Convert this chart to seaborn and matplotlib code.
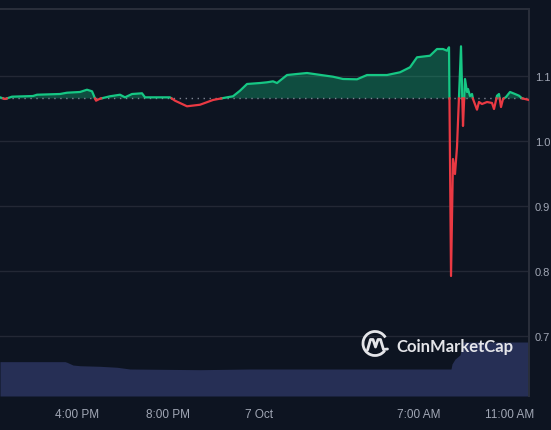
import numpy as np
import pandas as pd
import matplotlib
matplotlib.use("Agg")
import matplotlib.pyplot as plt
from matplotlib.patches import Arc
import seaborn as sns

# ---------------- data ----------------
# hours since 12:00 PM, 6 Oct
hours = [0.615, 0.835, 1.142, 2.066, 2.241, 3.253, 3.560, 4.132, 4.439, 4.659,
         4.835, 5.011, 5.451, 5.890, 6.110, 6.417, 6.857, 6.989, 8.088, 8.308,
         8.835, 9.407, 9.978, 10.593, 10.857, 11.165, 11.473, 12.044, 12.351, 12.615,
         12.791, 13.231, 13.670, 14.110, 15.253, 15.692, 16.308, 16.747, 17.626, 18.198,
         18.637, 18.945, 19.516, 19.824, 20.088, 20.264, 20.352, 20.440, 20.527, 20.615,
         20.703, 20.879, 20.967, 21.055, 21.143, 21.187, 21.275, 21.363, 21.407, 21.582,
         21.670, 21.802, 22.022, 22.242, 22.330, 22.462, 22.549, 22.637, 22.725, 22.857,
         23.033, 23.253, 23.429, 23.560, 23.692, 23.868]
price = [1.0672, 1.0646, 1.0682, 1.0692, 1.0712, 1.0723, 1.0743, 1.0754, 1.0789, 1.0765,
         1.0620, 1.0651, 1.0688, 1.0712, 1.0672, 1.0723, 1.0734, 1.0672, 1.0672, 1.0620,
         1.0534, 1.0558, 1.0631, 1.0672, 1.0688, 1.0774, 1.0877, 1.0892, 1.0903, 1.0918,
         1.0892, 1.1015, 1.1031, 1.1046, 1.0989, 1.0954, 1.0949, 1.1015, 1.1015, 1.1057,
         1.1134, 1.1288, 1.1312, 1.1415, 1.1415, 1.1389, 1.1442, 0.7923, 0.9723, 0.9492,
         0.9908, 1.1457, 1.0231, 1.0954, 1.0754, 1.0800, 1.0692, 1.0723, 1.0646, 1.0482,
         1.0600, 1.0569, 1.0600, 1.0585, 1.0492, 1.0697, 1.0723, 1.0523, 1.0646, 1.0677,
         1.0754, 1.0723, 1.0697, 1.0657, 1.0646, 1.0631]
base_price = 1.0655

vol_hours = [0.615, 3.472, 3.560, 3.824, 4.132, 5.011, 5.758, 6.329, 9.407, 11.604,
             14.681, 20.440, 20.484, 20.615, 20.835, 20.967, 23.868]
volume = [3.55, 3.55, 3.48, 3.20, 3.13, 3.07, 2.97, 2.79, 2.72, 2.79,
          2.79, 2.79, 3.31, 3.82, 4.24, 5.58, 5.58]

ytick_vals = [0.7, 0.8, 0.9, 1.0, 1.1]
ytick_labels = ["0.7", "0.8", "0.9", "1.0", "1.1"]
xtick_vals = [4, 8, 12, 19, 23]
xtick_labels = ["4:00 PM", "8:00 PM", "7 Oct", "7:00 AM", "11:00 AM"]

# ---------------- style ----------------
BG = "#0d1421"
GREEN = "#16c784"
RED = "#ea3943"
GRID = "#232835"
TXT = "#a1a7b5"
VOLC = "#262f55"

W, H = 551, 431
fig = plt.figure(figsize=(W / 100, H / 100), dpi=100, facecolor=BG)
rect = [0, 34 / H, 529 / W, 387 / H]

# volume axes (behind)
axv = fig.add_axes(rect, zorder=0)
axv.set_facecolor(BG)
axv.fill_between(vol_hours, volume, 0, color=VOLC, lw=0)
axv.set_xlim(hours[0], hours[-1])
axv.set_ylim(0, 40)
axv.axis("off")

# price axes
ax = fig.add_axes(rect, zorder=1)
ax.patch.set_visible(False)

h = np.array(hours)
p = np.array(price)

# split into above / below baseline segments
rows = []
seg = 0
prev = None
for i in range(len(h)):
    side = "up" if p[i] >= base_price else "down"
    if prev is not None and side != prev:
        t = (base_price - p[i - 1]) / (p[i] - p[i - 1])
        hc = h[i - 1] + t * (h[i] - h[i - 1])
        rows.append((hc, base_price, seg, prev))
        seg += 1
        rows.append((hc, base_price, seg, side))
    rows.append((h[i], p[i], seg, side))
    prev = side
df = pd.DataFrame(rows, columns=["h", "p", "seg", "side"])

ax.fill_between(h, p, base_price, where=p >= base_price, interpolate=True,
                color=GREEN, alpha=0.32, lw=0, zorder=1)
ax.axhline(base_price, color="#7d8391", lw=1.0, ls=(0, (1, 3.3)), zorder=2)
sns.lineplot(data=df, x="h", y="p", hue="side", units="seg", estimator=None,
             palette={"up": GREEN, "down": RED}, lw=1.6, legend=False,
             sort=False, ax=ax, zorder=3)

ax.set_xlim(hours[0], hours[-1])
ax.set_ylim(0.60769, 1.20308)
ax.set_xlabel("")
ax.set_ylabel("")
ax.yaxis.tick_right()
ax.set_yticks(ytick_vals)
ax.set_yticklabels(ytick_labels)
ax.set_xticks(xtick_vals)
ax.set_xticklabels(xtick_labels)
ax.tick_params(axis="both", length=0, colors=TXT)
ax.tick_params(axis="x", pad=8.5, labelsize=8.5)
ax.tick_params(axis="y", pad=4.3, labelsize=8)
for lab in ax.get_xticklabels() + ax.get_yticklabels():
    lab.set_fontfamily("Liberation Sans")
ax.grid(axis="y", color=GRID, lw=1.0)
ax.grid(axis="x", visible=False)
ax.set_axisbelow(True)
for s in ["left", "bottom"]:
    ax.spines[s].set_visible(False)
for s in ["top", "right"]:
    ax.spines[s].set_color("#2a2f3b")
    ax.spines[s].set_linewidth(1.4)

# watermark overlay in pixel coordinates
ov = fig.add_axes([0, 0, 1, 1], zorder=5)
ov.set_xlim(0, W)
ov.set_ylim(H, 0)
ov.axis("off")
ov.patch.set_visible(False)
WM = "#e4e5e9"
ov.add_patch(Arc((375, 344.5), 24, 24, theta1=35, theta2=330, color=WM, lw=2.0))
ov.plot([367.5, 370.5, 373, 375.5, 378, 380.5, 383.5, 387.5],
        [351, 340.5, 340.5, 348, 340.5, 340.5, 350.5, 350], color=WM, lw=2.0,
        solid_capstyle="round", solid_joinstyle="round")
ov.text(396, 352.5, "CoinMarketCap", color=WM, fontsize=12, fontweight="bold",
        fontfamily="Lato", va="baseline", ha="left")

fig.savefig("out.png", dpi=100, facecolor=BG)
